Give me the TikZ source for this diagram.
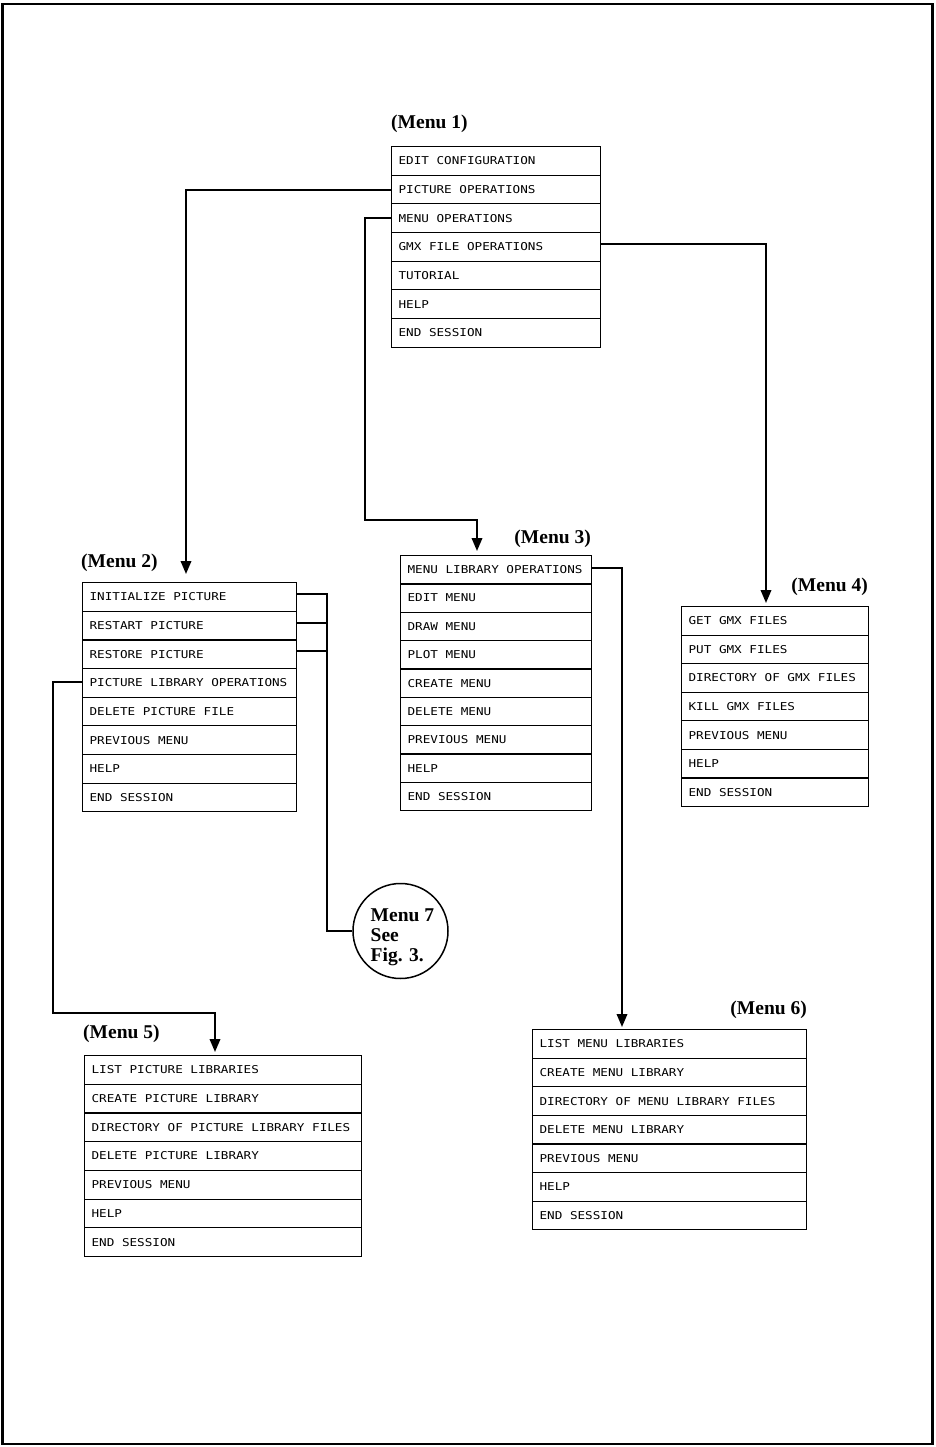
\documentclass[tikz,border=0pt]{standalone}
\usepackage{fontspec}
\usetikzlibrary{arrows.meta}
\newfontfamily\menufont[FakeStretch=1.17]{DejaVu Sans Mono}
\newfontfamily\titlefont{Liberation Serif}
\newcommand\menubox[6]{%
  \foreach \itm [count=\i] in {#6} {\node[row={#4}{#5}] (#1-\i) at (#2,{#3+(\i-1)*#5}) {\spaceskip=7.6pt\relax\mbox{\itm}};}%
}
\begin{document}
\begin{tikzpicture}[x=1pt,y=-1pt,
  row/.style 2 args={draw, line width=1.2pt, anchor=north west, inner xsep=7pt, inner ysep=0pt,
    minimum height=#2pt, text width=#1pt, align=left,
    font=\menufont\fontsize{10.8}{13}\selectfont},
  title/.style={font=\titlefont\bfseries\fontsize{19.5}{20}\selectfont, inner sep=0pt},
  conn/.style={line width=2pt},
  arr/.style={conn,-{Triangle[length=13pt,width=10.5pt]}}]
\useasboundingbox (0,0) rectangle (935,1447);
\draw[line width=2.2pt] (2.5,4) rectangle (932.5,1444);

% titles
\node[title, anchor=west] (t1) at (391,124) {(Menu 1)};
\node[title, anchor=west] (t2) at (81,563) {(Menu 2)};
\node[title, anchor=east] (t3) at (591,539) {(Menu 3)};
\node[title, anchor=east] (t4) at (868,587) {(Menu 4)};
\node[title, anchor=west] (t5) at (83,1034) {(Menu 5)};
\node[title, anchor=east] (t6) at (807,1010) {(Menu 6)};

% menus
\menubox{m1}{391}{146}{195}{28.65}{EDIT CONFIGURATION,PICTURE OPERATIONS,MENU OPERATIONS,GMX FILE OPERATIONS,TUTORIAL,HELP,END SESSION}
\menubox{m2}{82}{582}{200}{28.65}{INITIALIZE PICTURE,RESTART PICTURE,RESTORE PICTURE,PICTURE LIBRARY OPERATIONS,DELETE PICTURE FILE,PREVIOUS MENU,HELP,END SESSION}
\menubox{m3}{400}{555}{177}{28.35}{MENU LIBRARY OPERATIONS,EDIT MENU,DRAW MENU,PLOT MENU,CREATE MENU,DELETE MENU,PREVIOUS MENU,HELP,END SESSION}
\menubox{m4}{681}{606}{173}{28.57}{GET GMX FILES,PUT GMX FILES,DIRECTORY OF GMX FILES,KILL GMX FILES,PREVIOUS MENU,HELP,END SESSION}
\menubox{m5}{84}{1055}{263}{28.7}{LIST PICTURE LIBRARIES,CREATE PICTURE LIBRARY,DIRECTORY OF PICTURE LIBRARY FILES,DELETE PICTURE LIBRARY,PREVIOUS MENU,HELP,END SESSION}
\menubox{m6}{532}{1029}{260}{28.6}{LIST MENU LIBRARIES,CREATE MENU LIBRARY,DIRECTORY OF MENU LIBRARY FILES,DELETE MENU LIBRARY,PREVIOUS MENU,HELP,END SESSION}

% menu 7 circle
\node[draw, circle, line width=1.5pt, minimum size=95pt, inner sep=0pt] (m7) at (400.5,931) {};
\node[align=left, inner sep=0pt, anchor=north west,
  font=\titlefont\bfseries\fontsize{19.5}{19.8}\selectfont] (m7t) at (370.5,909) {Menu 7\\See\\Fig. 3.};

% connectors
\coordinate (a2) at (186,574);
\draw[arr] (m1-2.west) -| (a2);

\coordinate (k3) at (365,520);
\coordinate (a3) at (477,551);
\draw[arr] (m1-3.west) -| (k3) -| (a3);

\coordinate (a4) at (766,603);
\draw[arr] ([yshift=3pt]m1-4.east) -| (a4);

\coordinate (j) at (327,931);
\draw[conn] ([yshift=2.5pt]m2-1.east) -| (j) -- (m7);
\draw[conn] ([yshift=3pt]m2-2.east) -| (j);
\draw[conn] ([yshift=3pt]m2-3.east) -| (j);

\coordinate (k5) at (53,1013);
\coordinate (a5) at (215,1052);
\draw[arr] ([yshift=1pt]m2-4.west) -| (k5) -| (a5);

\coordinate (a6) at (622,1027);
\draw[arr] ([yshift=2pt]m3-1.east) -| (a6);
\end{tikzpicture}
\end{document}
